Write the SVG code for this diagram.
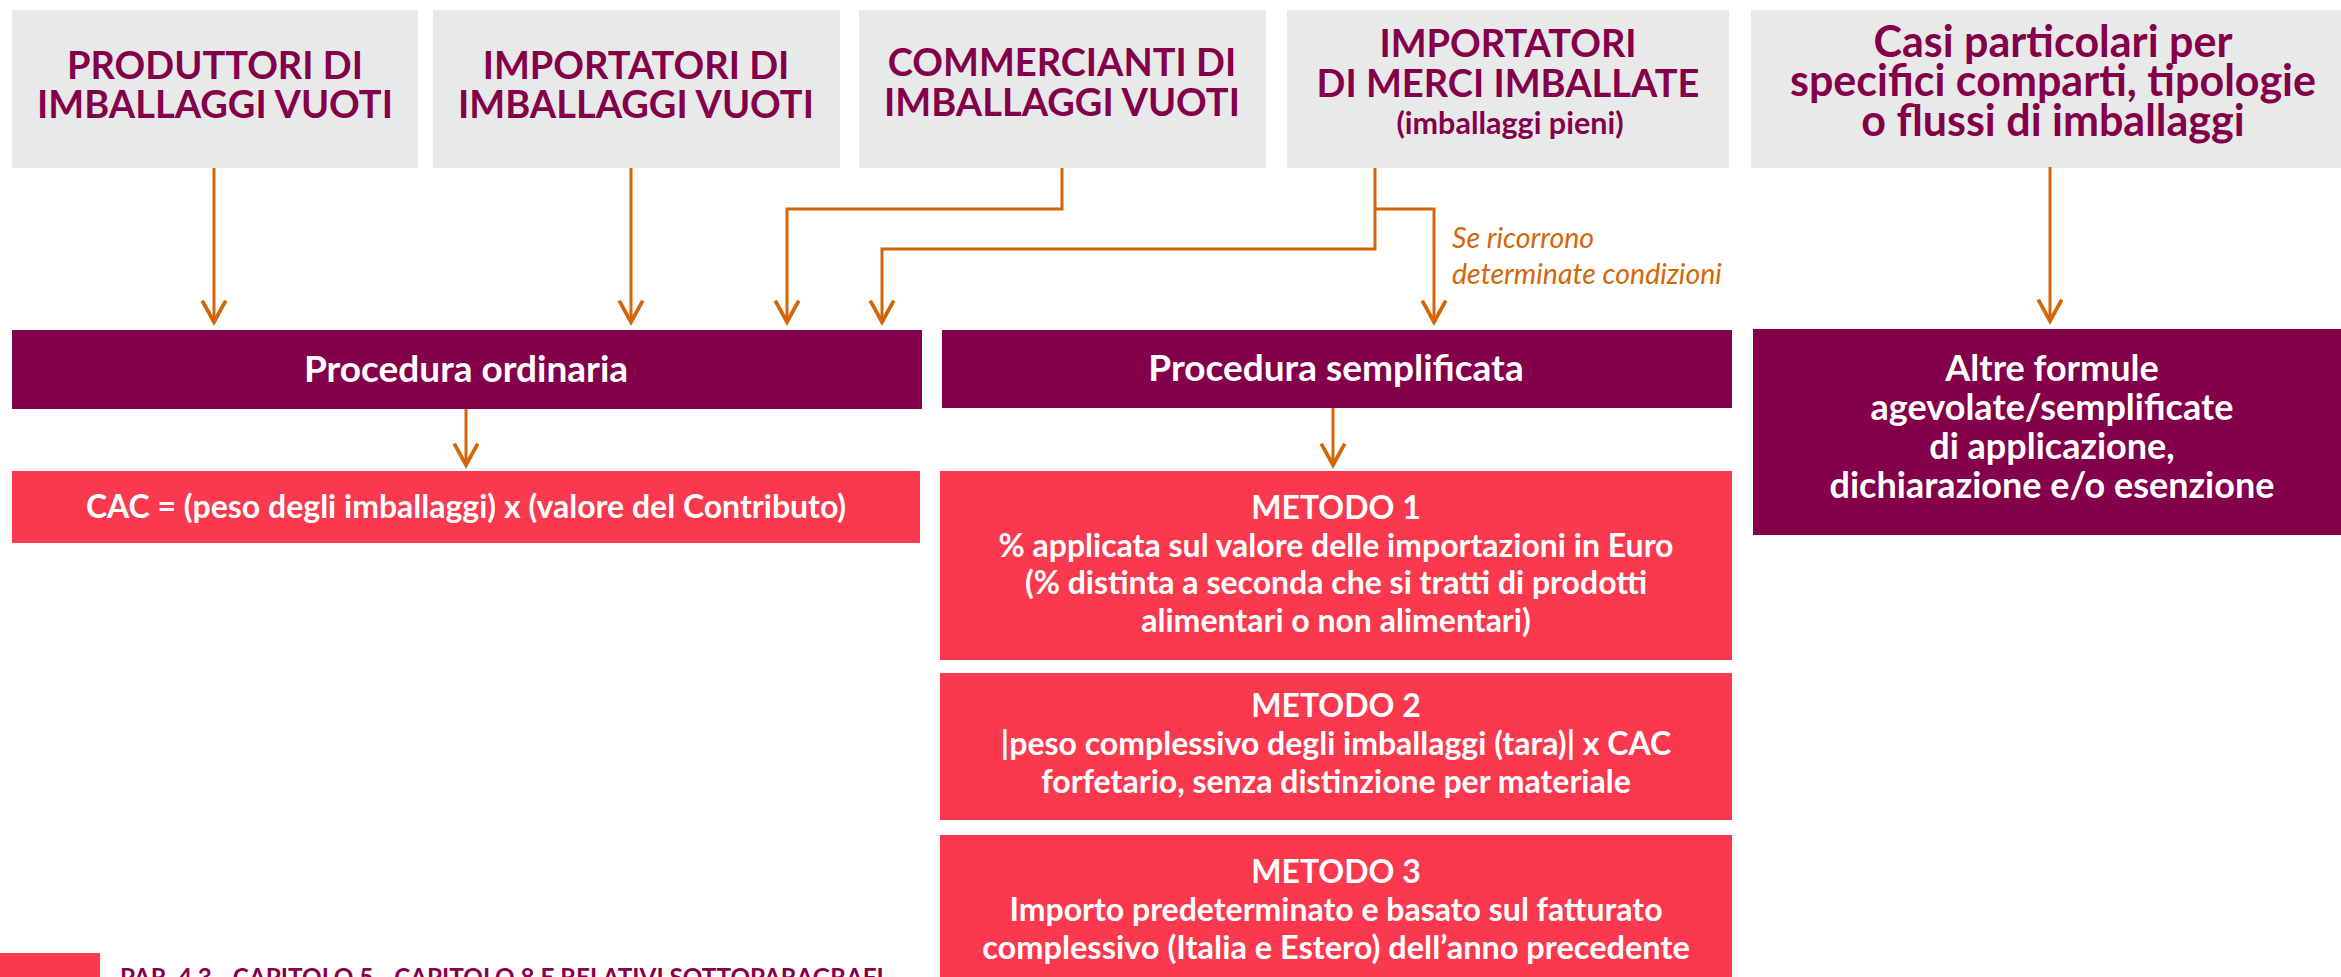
<svg xmlns="http://www.w3.org/2000/svg" width="2341" height="977" viewBox="0 0 2341 977">
<defs>
<style>
.src{fill:#E8EAE9}
.bar{fill:#85004B}
.red{fill:#FA394E}
.t{font-family:Lato,"Liberation Sans",sans-serif;font-weight:bold;text-anchor:middle}
.tm{fill:#85004B;font-size:38px}
.tw{fill:#FFFFFF}
.m{font-size:32px}
.c{fill:none;stroke:#D2670A;stroke-width:3;stroke-linejoin:miter}
.lbl{font-family:Lato,"Liberation Sans",sans-serif;font-style:italic;fill:#D2670A;font-size:28.5px}
</style>
<marker id="ah" markerUnits="userSpaceOnUse" markerWidth="30" markerHeight="30" viewBox="-24 -14 28 28" refX="0" refY="0" orient="auto" overflow="visible">
<path d="M-20,-11 L0,0 L-20,11" fill="none" stroke="#D2670A" stroke-width="3.5"/>
</marker>
</defs>
<rect width="2341" height="977" fill="#FFFFFF"/>

<g id="produttori">
<rect class="src" x="12" y="10" width="406" height="158"/>
<text class="t tm" x="215" y="79">PRODUTTORI DI</text>
<text class="t tm" x="215" y="118">IMBALLAGGI VUOTI</text>
</g>
<g id="importatori-vuoti">
<rect class="src" x="433" y="10" width="407" height="158"/>
<text class="t tm" x="636" y="79">IMPORTATORI DI</text>
<text class="t tm" x="636" y="118">IMBALLAGGI VUOTI</text>
</g>
<g id="commercianti">
<rect class="src" x="859" y="10" width="407" height="158"/>
<text class="t tm" x="1062" y="76">COMMERCIANTI DI</text>
<text class="t tm" x="1062" y="116">IMBALLAGGI VUOTI</text>
</g>
<g id="importatori-merci">
<rect class="src" x="1287" y="10" width="442" height="158"/>
<text class="t tm" x="1508" y="57">IMPORTATORI</text>
<text class="t tm" x="1508" y="97">DI MERCI IMBALLATE</text>
<text class="t" x="1510" y="134" fill="#85004B" font-size="30.5">(imballaggi pieni)</text>
</g>
<g id="casi-particolari">
<rect class="src" x="1751" y="10" width="600" height="158"/>
<text class="t" fill="#85004B" font-size="43" x="2053" y="57">Casi particolari per</text>
<text class="t" fill="#85004B" font-size="43" x="2053" y="96">specifici comparti, tipologie</text>
<text class="t" fill="#85004B" font-size="43" x="2053" y="136">o flussi di imballaggi</text>
</g>

<g id="procedura-ordinaria">
<rect class="bar" x="12" y="330" width="910" height="79"/>
<text class="t tw" font-size="37" x="466" y="382">Procedura ordinaria</text>
</g>
<g id="procedura-semplificata">
<rect class="bar" x="942" y="330" width="790" height="78"/>
<text class="t tw" font-size="37" x="1336" y="381">Procedura semplificata</text>
</g>
<g id="altre-formule">
<rect class="bar" x="1753" y="329" width="600" height="206"/>
<text class="t tw" font-size="36" x="2052" y="381">Altre formule</text>
<text class="t tw" font-size="36" x="2052" y="420">agevolate/semplificate</text>
<text class="t tw" font-size="36" x="2052" y="459">di applicazione,</text>
<text class="t tw" font-size="36" x="2052" y="498">dichiarazione e/o esenzione</text>
</g>

<g id="cac">
<rect class="red" x="12" y="471" width="908" height="72"/>
<text class="t tw" font-size="32" x="466" y="518">CAC = (peso degli imballaggi) x (valore del Contributo)</text>
</g>
<g id="metodo1">
<rect class="red" x="940" y="471" width="792" height="189"/>
<text class="t tw m" x="1336" y="519">METODO 1</text>
<text class="t tw m" x="1336" y="557">% applicata sul valore delle importazioni in Euro</text>
<text class="t tw m" x="1336" y="594">(% distinta a seconda che si tratti di prodotti</text>
<text class="t tw m" x="1336" y="632">alimentari o non alimentari)</text>
</g>
<g id="metodo2">
<rect class="red" x="940" y="673" width="792" height="147"/>
<text class="t tw m" x="1336" y="717">METODO 2</text>
<text class="t tw m" x="1336" y="755">|peso complessivo degli imballaggi (tara)| x CAC</text>
<text class="t tw m" x="1336" y="793">forfetario, senza distinzione per materiale</text>
</g>
<g id="metodo3">
<rect class="red" x="940" y="835" width="792" height="150"/>
<text class="t tw m" x="1336" y="883">METODO 3</text>
<text class="t tw m" x="1336" y="921">Importo predeterminato e basato sul fatturato</text>
<text class="t tw" font-size="32.5" x="1336" y="959">complessivo (Italia e Estero) dell’anno precedente</text>
</g>

<g id="footer">
<rect class="red" x="0" y="953" width="100" height="30"/>
<text font-family="Lato,'Liberation Sans',sans-serif" font-weight="bold" fill="#85004B" font-size="24.3" x="120" y="986">PAR. 4.3 - CAPITOLO 5 - CAPITOLO 8 E RELATIVI SOTTOPARAGRAFI</text>
</g>

<g id="connectors">
<path class="c" d="M214 168 V322" marker-end="url(#ah)"/>
<path class="c" d="M631 168 V322" marker-end="url(#ah)"/>
<path class="c" d="M1062 168 V209 H787 V322" marker-end="url(#ah)"/>
<path class="c" d="M1375 168 V249 H882 V322" marker-end="url(#ah)"/>
<path class="c" d="M1375 209 H1434 V322" marker-end="url(#ah)"/>
<path class="c" d="M2050 167 V321" marker-end="url(#ah)"/>
<path class="c" d="M466 409 V465" marker-end="url(#ah)"/>
<path class="c" d="M1333 408 V465" marker-end="url(#ah)"/>
<text class="lbl" x="1452" y="248">Se ricorrono</text>
<text class="lbl" x="1452" y="284">determinate condizioni</text>
</g>
</svg>
